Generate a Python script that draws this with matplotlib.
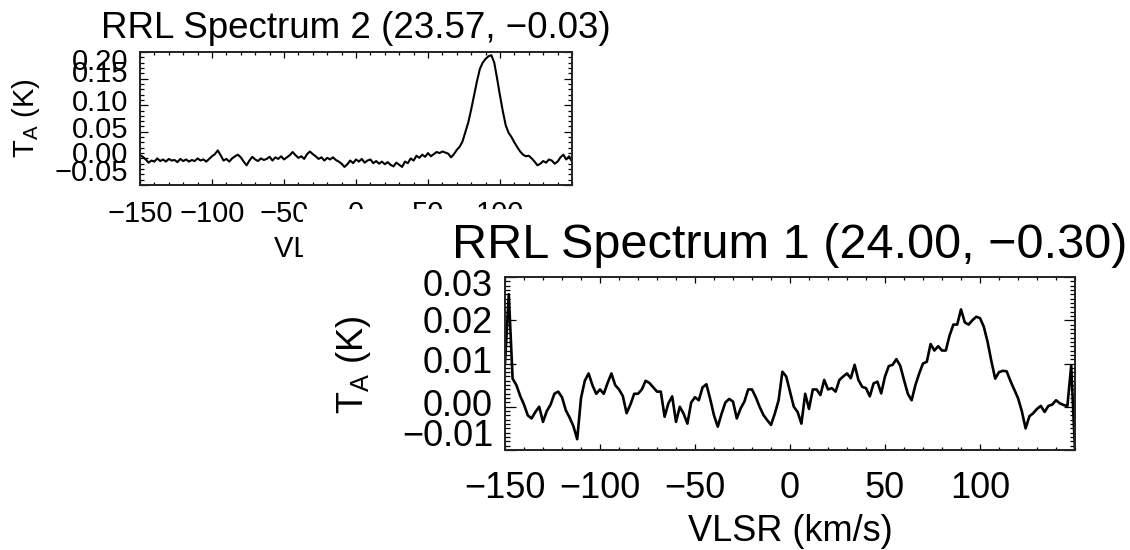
import numpy as np
import matplotlib
matplotlib.use("Agg")
import matplotlib.pyplot as plt
from matplotlib.patches import Rectangle
from matplotlib.ticker import AutoMinorLocator

plt.rcParams['font.family'] = ['Liberation Sans', 'DejaVu Sans']
plt.rcParams['axes.unicode_minus'] = True

# ---------------- data ----------------
# Spectrum 2 (small panel, upper left)
velocity_2 = np.arange(-150, 151, 2)
ta_2 = [
    0.006, 0.003, -0.002, -0.008, -0.004, -0.006, 0.000, -0.005, -0.002, -0.006,   # -150..-132
    -0.001, -0.004, -0.003, -0.007, -0.001, -0.005, -0.002, -0.006, -0.003, -0.005,  # -130..-112
    0.000, -0.004, -0.002, -0.006, -0.001, 0.004, 0.008, 0.015, 0.006, -0.004,      # -110..-92
    -0.001, -0.006, 0.000, 0.004, 0.007, 0.002, -0.006, -0.013, -0.004, 0.003,      # -90..-72
    -0.002, -0.005, 0.000, -0.003, -0.001, 0.003, -0.004, 0.002, -0.001, 0.004,     # -70..-52
    -0.002, 0.002, 0.006, 0.012, 0.006, 0.001, 0.004, -0.001, 0.008, 0.013,         # -50..-32
    0.008, 0.004, -0.001, 0.002, -0.004, 0.001, -0.002, 0.002, -0.003, -0.006,      # -30..-12
    -0.010, -0.016, -0.011, -0.004, -0.009, -0.002, -0.006, -0.001, -0.008, -0.004, # -10..8
    -0.002, -0.009, -0.005, -0.010, -0.006, -0.011, -0.007, -0.012, -0.015, -0.008, # 10..28
    -0.012, -0.016, -0.006, -0.009, 0.000, -0.004, 0.005, 0.001, 0.007, 0.003,      # 30..48
    0.010, 0.004, 0.008, 0.012, 0.010, 0.013, 0.011, 0.009, 0.002, 0.008,           # 50..68
    0.016, 0.022, 0.032, 0.050, 0.068, 0.092, 0.118, 0.145, 0.168, 0.180,           # 70..88
    0.187, 0.192, 0.194, 0.180, 0.150, 0.118, 0.088, 0.062, 0.048, 0.040,           # 90..108
    0.030, 0.021, 0.013, 0.007, 0.004, 0.005, 0.000, -0.006, -0.013, -0.010,        # 110..128
    -0.005, -0.008, -0.002, -0.004, -0.010, -0.006, 0.002, 0.007, -0.002, 0.004,    # 130..148
    -0.006,                                                                          # 150
]

# Spectrum 1 (large panel, lower right)
velocity_1 = np.arange(-150, 151, 2)
ta_1 = [
    0.0100, 0.0260, 0.0065, 0.0050, 0.0025, 0.0005, -0.0020, -0.0027, -0.0012, 0.0000,   # -150..-132
    -0.0035, -0.0010, 0.0005, 0.0030, 0.0035, 0.0022, -0.0008, -0.0025, -0.0045, -0.0075, # -130..-112
    0.0020, 0.0060, 0.0077, 0.0050, 0.0030, 0.0040, 0.0030, 0.0055, 0.0077, 0.0050,     # -110..-92
    0.0040, 0.0025, -0.0015, 0.0005, 0.0030, 0.0030, 0.0040, 0.0060, 0.0055, 0.0045,     # -90..-72
    0.0035, 0.0035, -0.0023, 0.0008, 0.0024, -0.0035, 0.0000, -0.0016, -0.0039, 0.0010,  # -70..-52
    0.0022, 0.0015, 0.0045, 0.0052, 0.0018, -0.0020, -0.0046, -0.0016, 0.0010, 0.0018,   # -50..-32
    0.0012, -0.0027, -0.0004, 0.0012, 0.0040, 0.0040, 0.0022, 0.0000, -0.0019, -0.0031,  # -30..-12
    -0.0042, -0.0016, 0.0015, 0.0081, 0.0070, 0.0035, 0.0000, -0.0012, -0.0039, 0.0030,  # -10..8
    -0.0005, 0.0040, 0.0040, 0.0027, 0.0062, 0.0040, 0.0043, 0.0035, 0.0062, 0.0070,     # 10..28
    0.0077, 0.0066, 0.0097, 0.0062, 0.0046, 0.0043, 0.0024, 0.0054, 0.0058, 0.0031,      # 30..48
    0.0070, 0.0094, 0.0097, 0.0110, 0.0095, 0.0062, 0.0030, 0.0015, 0.0050, 0.0077,      # 50..68
    0.0100, 0.0104, 0.0145, 0.0130, 0.0140, 0.0130, 0.0130, 0.0165, 0.0190, 0.0190,      # 70..88
    0.0225, 0.0195, 0.0190, 0.0200, 0.0208, 0.0205, 0.0185, 0.0150, 0.0105, 0.0065,      # 90..108
    0.0080, 0.0083, 0.0082, 0.0060, 0.0040, 0.0020, -0.0010, -0.0050, -0.0022, -0.0015,  # 110..128
    -0.0005, 0.0002, -0.0012, 0.0002, 0.0005, 0.0015, 0.0008, 0.0004, 0.0002, 0.0095,    # 130..148
    -0.0100,                                                                              # 150
]

title_2 = "RRL Spectrum 2 (23.57, \u22120.03)"
title_1 = "RRL Spectrum 1 (24.00, \u22120.30)"
xtick_values = [-150, -100, -50, 0, 50, 100]
ytick_values_2 = [-0.05, 0.00, 0.05, 0.10, 0.15, 0.20]
ytick_values_1 = [-0.01, 0.00, 0.01, 0.02, 0.03]
x_label = "VLSR (km/s)"
y_label = r"T$_\mathregular{A}$ (K)"

assert len(ta_2) == len(velocity_2)
assert len(ta_1) == len(velocity_1)

# ---------------- layout ----------------
W, H = 1130, 550
fig = plt.figure(figsize=(W / 100, H / 100), dpi=100)
fig.patch.set_facecolor('white')


def px_rect(l, t, r, b):
    return [l / W, 1 - b / H, (r - l) / W, (b - t) / H]


def fmt_num(v, nd):
    s = f"{v:.{nd}f}"
    return s.replace("-", "\u2212")


def make_panel(ax, vel, ta, title, yticks, ylim, fs_tick, fs_title, title_pad,
               xpad, xlabelpad, ylabel_x, ylabel_y, ytick_offsets_px, ypad_pt,
               lw, yminor, tl):
    ax.plot(vel, ta, color='black', lw=lw, solid_joinstyle='round')
    ax.set_xlim(-150, 150)
    ax.set_ylim(*ylim)
    ax.set_xticks(xtick_values, [fmt_num(v, 0) for v in xtick_values])
    ax.xaxis.set_minor_locator(AutoMinorLocator(5))
    ax.set_yticks(yticks)
    ax.yaxis.set_minor_locator(AutoMinorLocator(yminor))
    ax.tick_params(which='both', direction='in', top=True, right=True,
                   colors='black', width=0.9)
    ax.tick_params(axis='x', which='major', length=tl[0], labelsize=fs_tick, pad=xpad)
    ax.tick_params(axis='x', which='minor', length=tl[1])
    ax.tick_params(axis='y', which='major', length=tl[2], labelleft=False)
    ax.tick_params(axis='y', which='minor', length=tl[3])
    for sp in ax.spines.values():
        sp.set_linewidth(1.4)
        sp.set_color('#222222')
    nd = 2
    for val, off in zip(yticks, ytick_offsets_px):
        ax.annotate(fmt_num(val, nd), xy=(0, val), xycoords=ax.get_yaxis_transform(),
                    xytext=(-ypad_pt, -off * 0.72), textcoords='offset points',
                    ha='right', va='center', fontsize=fs_tick, color='black')
    ax.set_title(title, fontsize=fs_title, pad=title_pad, color='black')
    ax.set_xlabel(x_label, fontsize=fs_tick, labelpad=xlabelpad)
    ax.set_ylabel(y_label, fontsize=fs_tick)
    ax.yaxis.set_label_coords(ylabel_x, ylabel_y)


# Spectrum 2: upper-left small panel
ax2 = fig.add_axes(px_rect(140, 52, 572, 185))
make_panel(ax2, velocity_2, ta_2, title_2, ytick_values_2, (-0.05, 0.20),
           fs_tick=21, fs_title=26.5, title_pad=10, xpad=11, xlabelpad=5,
           ylabel_x=-0.2275, ylabel_y=0.5,
           ytick_offsets_px=[-12, -3, -2, -2, -5, 10], ypad_pt=8.4,
           lw=1.5, yminor=5, tl=(4.3, 2.2, 5.8, 2.9))

# white sheet of the second plot laid over the first one
cover = Rectangle((303 / W, 0), 1 - 303 / W, 1 - 209 / H, transform=fig.transFigure,
                  facecolor='white', edgecolor='none', zorder=1)
fig.add_artist(cover)

# Spectrum 1: lower-right large panel
ax1 = fig.add_axes(px_rect(505, 277, 1075, 450))
ax1.set_zorder(2)
make_panel(ax1, velocity_1, ta_1, title_1, ytick_values_1, (-0.01, 0.03),
           fs_tick=26, fs_title=35, title_pad=13.5, xpad=15, xlabelpad=6,
           ylabel_x=-0.2316, ylabel_y=0.49,
           ytick_offsets_px=[-13, 0, 0, 3, 9.7], ypad_pt=8.6,
           lw=1.9, yminor=10, tl=(4.3, 2.5, 8.0, 3.6))

fig.savefig("out.png", dpi=100, facecolor='white')
